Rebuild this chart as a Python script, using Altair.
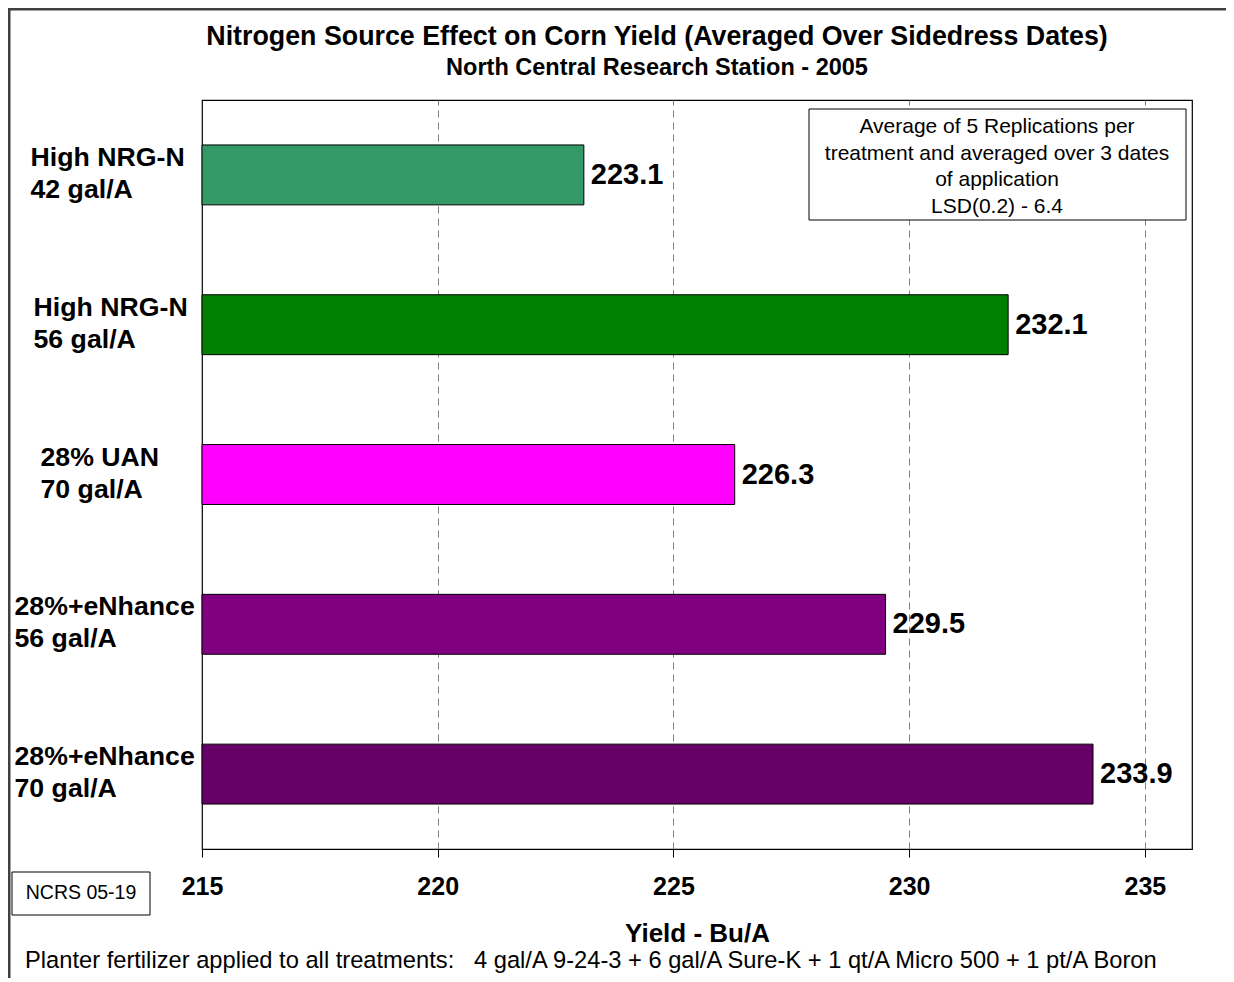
import altair as alt
import pandas as pd

# ---- data ----
treatments = ["High NRG-N|42 gal/A", "High NRG-N|56 gal/A", "28% UAN|70 gal/A",
              "28%+eNhance|56 gal/A", "28%+eNhance|70 gal/A"]
yields = [223.1, 232.1, 226.3, 229.5, 233.9]
bar_colors = ["#339966", "#008000", "#FF00FF", "#800080", "#660066"]
x_ticks = [215, 220, 225, 230, 235]

title_text = "Nitrogen Source Effect on Corn Yield (Averaged Over Sidedress Dates)"
subtitle_text = "North Central Research Station - 2005"
note_lines = ["Average of 5 Replications per", "treatment and averaged over 3 dates",
              "of application", "LSD(0.2) - 6.4"]
code_text = "NCRS 05-19"
footer_text = ("Planter fertilizer applied to all treatments:\u00a0\u00a0\u00a04 gal/A 9-24-3 + 6 gal/A Sure-K"
               " + 1 qt/A Micro 500 + 1 pt/A Boron")
x_title = "Yield - Bu/A"

FONT = "Liberation Sans"

df = pd.DataFrame({"treatment": treatments, "yield": yields,
                   "label": [f"{v:.1f}" for v in yields]})
one = pd.DataFrame({"k": [0]})

x_enc = alt.X("yield:Q",
              scale=alt.Scale(domain=[215, 236], nice=False, zero=False),
              axis=alt.Axis(values=x_ticks, format="d", grid=True, gridDash=[7, 5],
                            gridColor="#808080", gridWidth=1,
                            gridOpacity={"condition": {"test": "datum.value <= 215", "value": 0},
                                         "value": 1},
                            tickColor="black",
                            tickSize=8, tickWidth=1, domain=False, labelFlush=False,
                            labelFontSize=25, labelFontWeight="bold", labelColor="black",
                            labelPadding=17, labelFont=FONT,
                            title=x_title, titleFontSize=26, titleFontWeight="bold",
                            titleColor="black", titleFont=FONT, titleY=92,
                            titleBaseline="alphabetic"))

label_pad = {
    "condition": [
        {"test": "indexof(datum.value, 'eNhance') >= 0", "value": 188},
        {"test": "indexof(datum.value, 'UAN') >= 0", "value": 162},
        {"test": "indexof(datum.value, '56 gal') >= 0", "value": 169},
    ],
    "value": 172,
}

y_enc = alt.Y("treatment:N", sort=treatments,
              scale=alt.Scale(paddingInner=0.6, paddingOuter=0.3),
              axis=alt.Axis(title=None, labelExpr="split(datum.label, '|')",
                            labelAlign="left", labelBaseline="middle", labelPadding=label_pad,
                            labelOffset=-17,
                            ticks=False, tickSize=0, domain=False, grid=False,
                            labelFontSize=26.7, labelFontWeight="bold", labelLineHeight=32,
                            labelColor="black", labelFont=FONT, labelLimit=400))

bars = alt.Chart(df).mark_bar(stroke="black", strokeWidth=1).encode(
    x=x_enc, x2=alt.datum(215), y=y_enc,
    color=alt.Color("treatment:N", scale=alt.Scale(domain=treatments, range=bar_colors),
                    legend=None),
)

values = alt.Chart(df).mark_text(align="left", baseline="middle", dx=7, fontSize=29,
                                 fontWeight="bold", font=FONT, color="black").encode(
    x="yield:Q", y=alt.Y("treatment:N", sort=treatments), text="label:N")

note_box = alt.Chart(one).mark_rect(fill="white", stroke="black", strokeWidth=1).encode(
    x=alt.value(607), x2=alt.value(984), y=alt.value(9), y2=alt.value(120))
note_text = alt.Chart(pd.DataFrame({"t": ["\n".join(note_lines)]})).mark_text(
    align="center", baseline="top", lineBreak="\n", lineHeight=26.5, fontSize=21,
    font=FONT, color="black").encode(x=alt.value(795), y=alt.value(16), text="t:N")

code_box = alt.Chart(one).mark_rect(fill="white", stroke="black", strokeWidth=1).encode(
    x=alt.value(-190), x2=alt.value(-52), y=alt.value(772), y2=alt.value(815))
code_lbl = alt.Chart(pd.DataFrame({"t": [code_text]})).mark_text(
    align="center", baseline="middle", fontSize=19.5, font=FONT, color="black").encode(
    x=alt.value(-121), y=alt.value(793), text="t:N")

title = alt.Chart(pd.DataFrame({"t": [title_text]})).mark_text(
    align="center", baseline="middle", fontSize=26.8, fontWeight="bold", font=FONT,
    color="black").encode(x=alt.value(455), y=alt.value(-63), text="t:N")
subtitle = alt.Chart(pd.DataFrame({"t": [subtitle_text]})).mark_text(
    align="center", baseline="middle", fontSize=23.5, fontWeight="bold", font=FONT,
    color="black").encode(x=alt.value(455), y=alt.value(-32), text="t:N")
footer = alt.Chart(pd.DataFrame({"t": [footer_text]})).mark_text(
    align="left", baseline="middle", fontSize=23.7, font=FONT, color="black").encode(
    x=alt.value(-177), y=alt.value(861), text="t:N")

top_border = alt.Chart(one).mark_rule(color="#404040", strokeWidth=3).encode(
    x=alt.value(-195), x2=alt.value(1040), y=alt.value(-91))
left_border = alt.Chart(one).mark_rule(color="#404040", strokeWidth=3).encode(
    x=alt.value(-193), y=alt.value(-92), y2=alt.value(890))

chart = alt.layer(
    bars, values, note_box, note_text, code_box, code_lbl, title, subtitle, footer,
    top_border, left_border
).properties(
    width=990, height=749,
    autosize=alt.AutoSizeParams(type="none"),
    padding={"left": 194, "top": 92, "right": 34, "bottom": 129},
).configure_view(stroke="black", strokeWidth=1.2)

chart.save("out.html", embed_options={"renderer": "svg", "actions": False})
